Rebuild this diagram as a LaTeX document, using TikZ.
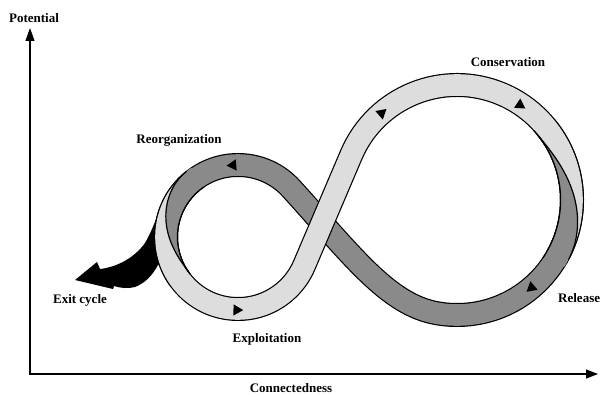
\documentclass[tikz,border=0pt]{standalone}
\usepackage{fontspec}
\setmainfont{Liberation Serif}
\usetikzlibrary{calc,arrows.meta,shapes.geometric}
\definecolor{lightband}{RGB}{221,221,221}
\definecolor{darkband}{RGB}{138,138,138}
\begin{document}
\begin{tikzpicture}[x=1pt,y=1pt,
  declare function={clampu(\u)=max(0,min(1,\u)); sst(\u)=3*clampu(\u)^2-2*clampu(\u)^3;},
  bandout/.style={draw=black,line width=24pt,line join=round},
  darkfill/.style={draw=darkband,line width=21.6pt,line join=round},
  lightfill/.style={draw=lightband,line width=21.6pt,line join=round},
  edgeline/.style={draw=black,line width=1.2pt},
  flowmark/.style={regular polygon,regular polygon sides=3,fill=black,inner sep=0pt,minimum size=13pt},
  lbl/.style={font=\fontsize{13}{15}\selectfont\bfseries,inner sep=0pt,anchor=base},
  axisline/.style={draw=black,line width=1.2pt}]
\useasboundingbox (0,0) rectangle (601,394);
\fill[white] (0,0) rectangle (601,394);

\coordinate (SC) at (238,157);
\coordinate (BC) at (457,194);

% exit cycle arrow
\fill[black] (75,114) -- (97,132) -- (100,125)
  .. controls (118,127) and (135,137) .. (145,151)
  .. controls (152,163) and (156,175) .. (160,186)
  -- (172,186) -- (172,130) -- (158,129)
  .. controls (152,118) and (145,111) .. (135,107)
  .. controls (128,105) and (120,106) .. (114,108)
  -- (113,105) -- cycle;

% dark band (release -> reorganization)
\foreach \st in {bandout,darkfill}{
  \path[\st] ($(BC)+(40:115)$) arc[start angle=40, end angle=-100, radius=115]
     .. controls (387.8,89.4) and (351.9,138.8) .. ($(SC)+(42.3:72)$)
     arc[start angle=42.3, end angle=216, radius=72];
}
% light band (exploitation -> conservation)
\foreach \st in {bandout,lightfill}{
  \path[\st] ($(SC)+(130:72)$) arc[start angle=130, end angle=336.9, radius=72]
     -- ($(BC)+(156.9:115)$) arc[start angle=156.9, end angle=-30, radius=115];
}

% spiral overlaps
\begin{scope}[shift={(SC)}]
  \fill[darkband] plot[domain=124:216, samples=60, variable=\t] (\t:{83.4-22.8*sst((\t-128)/88)})
     arc[start angle=216, end angle=124, radius=60.6] -- cycle;
  \draw[edgeline] plot[domain=128:216, samples=60, variable=\t] (\t:{83.4-22.8*sst((\t-128)/88)});
  \draw[edgeline] (124:60.6) arc[start angle=124, end angle=218, radius=60.6];
\end{scope}
\begin{scope}[shift={(BC)}]
  \fill[darkband] plot[domain=-32:40, samples=60, variable=\t] (\t:{103.6+22.8*sst((40-\t)/68)})
     arc[start angle=40, end angle=-32, radius=103.6] -- cycle;
  \draw[edgeline] plot[domain=-28:40, samples=60, variable=\t] (\t:{103.6+22.8*sst((40-\t)/68)});
  \draw[edgeline] (42:103.6) arc[start angle=42, end angle=-34, radius=103.6];
\end{scope}

% flow direction marks
\node[flowmark, rotate=94] (m1) at ($(SC)+(94:72)$) {};
\node[flowmark, rotate=269] (m2) at ($(SC)+(269:73)$) {};
\node[flowmark, rotate=-49] (m3) at ($(BC)+(131:115)$) {};
\node[flowmark, rotate=-123.5] (m4) at ($(BC)+(56.5:114)$) {};
\node[flowmark, rotate=130.4] (m5) at ($(BC)+(-49.6:115)$) {};

% axes
\coordinate (O) at (30,20);
\coordinate (ytip) at (30,366);
\coordinate (xtip) at (598,20);
\draw[axisline, {Triangle[length=13pt,width=9pt]}-{Triangle[length=12pt,width=9pt]}] (ytip) -- (O) -- (xtip);

% labels
\node[lbl] (potential) at (34,371.5) {Potential};
\node[lbl] (connected) at (291,1.5) {Connectedness};
\node[lbl] (reorg) at (179,250.5) {Reorganization};
\node[lbl] (conserv) at (508,327.5) {Conservation};
\node[lbl] (exitc) at (80,90.5) {Exit cycle};
\node[lbl] (exploit) at (267,51.5) {Exploitation};
\node[lbl, anchor=base west] (release) at (558,91.5) {Release};
\end{tikzpicture}
\end{document}
